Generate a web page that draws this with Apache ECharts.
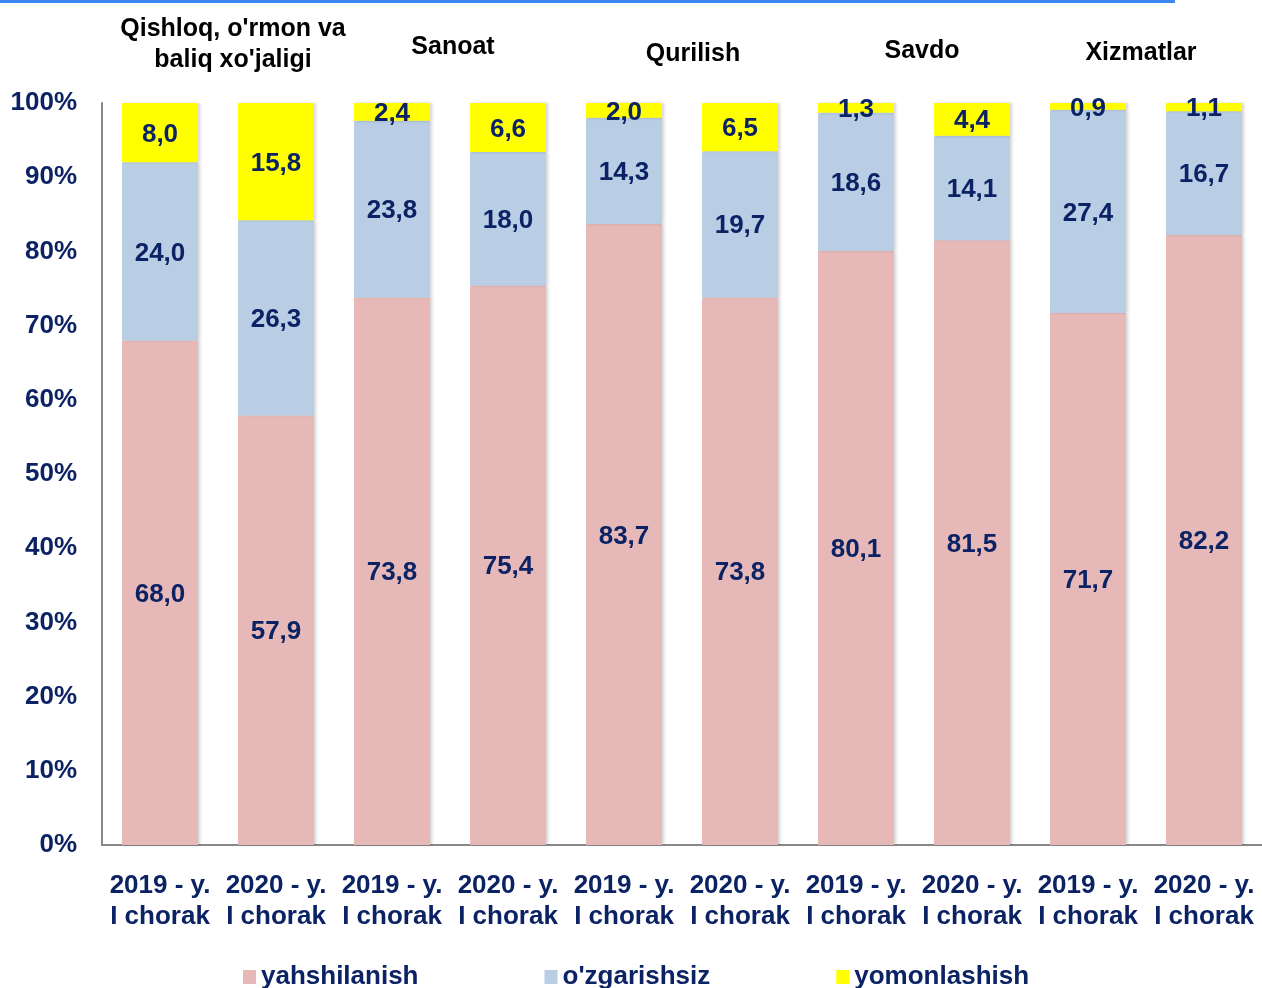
<!DOCTYPE html>
<html>
<head>
<meta charset="utf-8">
<script src="https://cdn.jsdelivr.net/npm/echarts@6/dist/echarts.min.js"></script>
<style>
  html, body { margin: 0; padding: 0; background: #fff; }
  #main { width: 1262px; height: 988px; }
</style>
</head>
<body>
<div id="main"></div>
<script>
// kategoriyalar (x o'qi)
var categories = [
  '2019 - y.\nI chorak', '2020 - y.\nI chorak',
  '2019 - y.\nI chorak', '2020 - y.\nI chorak',
  '2019 - y.\nI chorak', '2020 - y.\nI chorak',
  '2019 - y.\nI chorak', '2020 - y.\nI chorak',
  '2019 - y.\nI chorak', '2020 - y.\nI chorak'
];
var seriesNames = ['yahshilanish', "o'zgarishsiz", 'yomonlashish'];
var yahshilanish = [68.0, 57.9, 73.8, 75.4, 83.7, 73.8, 80.1, 81.5, 71.7, 82.2];
var ozgarishsiz  = [24.0, 26.3, 23.8, 18.0, 14.3, 19.7, 18.6, 14.1, 27.4, 16.7];
var yomonlashish = [8.0, 15.8, 2.4, 6.6, 2.0, 6.5, 1.3, 4.4, 0.9, 1.1];
var groupTitles = ["Qishloq, o'rmon va\nbaliq xo'jaligi", 'Sanoat', 'Qurilish', 'Savdo', 'Xizmatlar'];

var navy = '#0B2265';
var font = '"Liberation Sans", Arial, sans-serif';

function fmt(p) {
  return p.value.toFixed(1).replace('.', ',');
}

function makeSeries(name, data, color) {
  return {
    name: name,
    type: 'bar',
    stack: 'total',
    barWidth: 76,
    data: data,
    itemStyle: {
      color: color,
      shadowColor: 'rgba(0,0,0,0.18)',
      shadowBlur: 3,
      shadowOffsetX: 2
    },
    label: {
      show: true,
      position: 'inside',
      offset: [0, 2],
      formatter: fmt,
      color: navy,
      fontFamily: font,
      fontWeight: 'bold',
      fontSize: 26
    }
  };
}

var myChart = echarts.init(document.getElementById('main'));

// guruh sarlavhalari - grafik matn
var titleX = [233, 453, 693, 922, 1141];
var titleY = [45, 47, 54, 51, 53];
var titles = groupTitles.map(function (t, i) {
  return {
    type: 'text',
    x: titleX[i],
    y: titleY[i],
    style: {
      text: t,
      align: 'center',
      verticalAlign: 'middle',
      fill: '#000',
      font: 'bold 25px ' + font,
      lineHeight: 31
    }
  };
});

var option = {
  animation: false,
  backgroundColor: '#fff',
  textStyle: { fontFamily: font },
  grid: { left: 102, right: 0, top: 103, bottom: 143, containLabel: false },
  legend: {
    data: seriesNames,
    left: 238,
    top: 959,
    itemWidth: 13,
    itemHeight: 14,
    itemGap: 126,
    icon: 'rect',
    textStyle: { color: navy, fontWeight: 'bold', fontSize: 26, fontFamily: font, padding: [0, 0, 0, 0] }
  },
  xAxis: {
    type: 'category',
    data: categories,
    axisLine: { lineStyle: { color: '#888', width: 2 } },
    axisTick: { show: false },
    axisLabel: {
      color: navy,
      fontWeight: 'bold',
      fontSize: 26,
      fontFamily: font,
      lineHeight: 31,
      margin: 25,
      interval: 0
    }
  },
  yAxis: {
    type: 'value',
    min: 0,
    max: 100,
    interval: 10,
    axisLine: { show: true, lineStyle: { color: '#888', width: 2 } },
    axisTick: { show: false },
    splitLine: { show: false },
    axisLabel: {
      formatter: '{value}%',
      color: navy,
      fontWeight: 'bold',
      fontSize: 26,
      fontFamily: font,
      margin: 25,
      padding: [4, 0, 0, 0]
    }
  },
  graphic: [
    { type: 'rect', left: 0, top: 0, shape: { width: 1175, height: 3 }, style: { fill: '#3D86F0' } }
  ].concat(titles),
  series: [
    makeSeries(seriesNames[0], yahshilanish, '#E6B9B8'),
    makeSeries(seriesNames[1], ozgarishsiz, '#B9CDE5'),
    makeSeries(seriesNames[2], yomonlashish, '#FFFF00')
  ]
};

myChart.setOption(option);
</script>
</body>
</html>
